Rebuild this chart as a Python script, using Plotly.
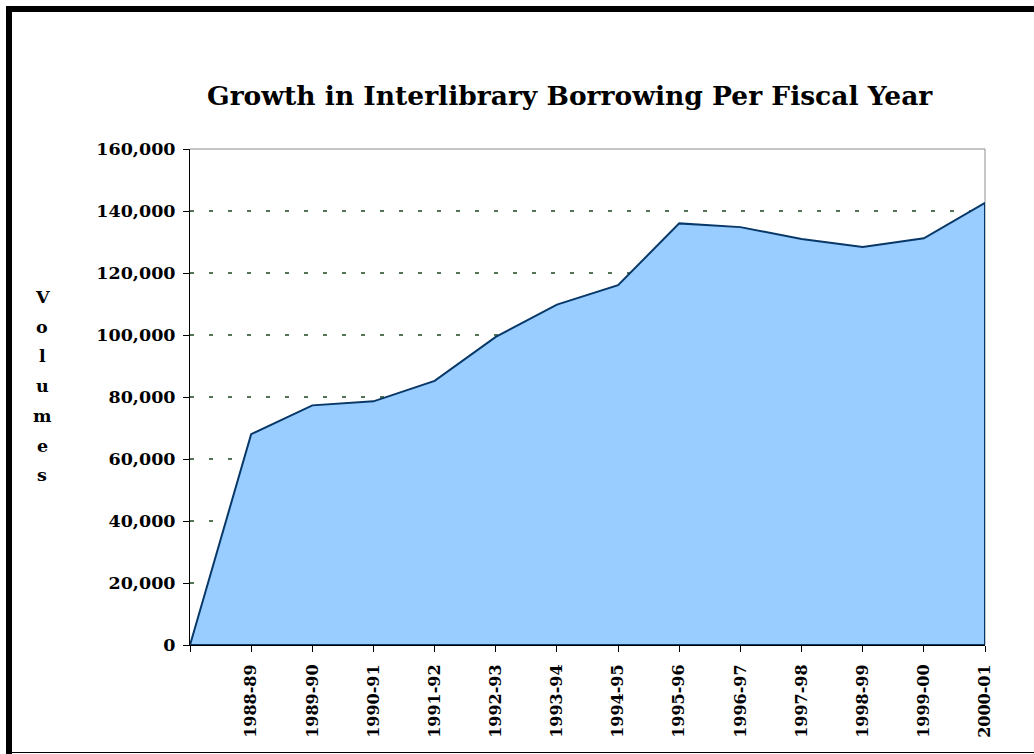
import plotly.graph_objects as go

# Fiscal years on the category axis; the first slot is an unlabeled baseline year
fiscal_years = ["", "1988-89", "1989-90", "1990-91", "1991-92", "1992-93", "1993-94",
                "1994-95", "1995-96", "1996-97", "1997-98", "1998-99", "1999-00", "2000-01"]
volumes = [0, 68000, 77300, 78600, 85200, 99400, 109800, 116100,
           136000, 134800, 131000, 128400, 131200, 142600]
y_ticks = [0, 20000, 40000, 60000, 80000, 100000, 120000, 140000, 160000]

W, H = 1034, 754
plot_left, plot_right, plot_top, plot_bottom = 190, 985, 149, 645

FONT = "DejaVu Serif"
x_idx = list(range(len(fiscal_years)))

fig = go.Figure()

# Closed polygon so the outline runs along the baseline and the right edge too
poly_x = x_idx + [x_idx[-1], x_idx[0]]
poly_y = volumes + [0, 0]
fig.add_trace(go.Scatter(
    x=poly_x, y=poly_y, mode="lines", fill="toself",
    fillcolor="#99CCFF", line=dict(color="#083868", width=2),
    hoverinfo="skip", showlegend=False,
))

fig.update_layout(
    width=W, height=H,
    margin=dict(l=0, r=0, t=0, b=0),
    paper_bgcolor="white", plot_bgcolor="white",
    showlegend=False,
    xaxis=dict(
        domain=[plot_left / W, plot_right / W],
        range=[0, len(fiscal_years) - 1],
        tickmode="array", tickvals=x_idx, ticktext=fiscal_years,
        tickangle=-90,
        ticks="outside", ticklen=6, tickcolor="black", tickwidth=1,
        ticklabelstandoff=6,
        showline=True, linecolor="black", linewidth=1,
        showgrid=False, zeroline=False, automargin=False,
        tickfont=dict(family=FONT, size=16, color="black", weight="bold"),
    ),
    yaxis=dict(
        domain=[1 - plot_bottom / H, 1 - plot_top / H],
        range=[0, 160000],
        tickmode="array", tickvals=y_ticks,
        ticktext=[f"{v:,}" for v in y_ticks],
        ticks="outside", ticklen=6, tickcolor="black", tickwidth=1,
        ticklabelstandoff=4,
        showline=True, linecolor="black", linewidth=1,
        showgrid=True, gridcolor="#557355", gridwidth=1.5, griddash="4px,15px",
        zeroline=False, automargin=False,
        tickfont=dict(family=FONT, size=17.5, color="black", weight="bold"),
    ),
)

# Gray frame on the top and right of the plot area (beneath the dashed grid)
fig.add_shape(type="line", xref="x domain", yref="y domain", x0=0, x1=1, y0=1, y1=1,
              line=dict(color="#8C8C8C", width=1), layer="below")
fig.add_shape(type="line", xref="x domain", yref="y domain", x0=1, x1=1, y0=0, y1=1,
              line=dict(color="#8C8C8C", width=1), layer="below")

# Page border
def px_rect(x0, y0, x1, y1):
    fig.add_shape(type="rect", xref="paper", yref="paper",
                  x0=x0 / W, x1=x1 / W, y0=1 - y1 / H, y1=1 - y0 / H,
                  fillcolor="black", line=dict(width=0), layer="above")

px_rect(6, 6, 12, H)
px_rect(6, 6, W, 12)
px_rect(12, 752, W, 753)

# Title
fig.add_annotation(
    text="Growth in Interlibrary Borrowing Per Fiscal Year",
    xref="paper", yref="paper", x=570 / W, y=1 - 95 / H,
    showarrow=False, xanchor="center", yanchor="middle",
    font=dict(family=FONT, size=26.5, color="black", weight="bold"),
)

# Vertical axis title, one letter per line
axis_title = "Volumes"
first_y, step_y = 297, 29.7
for i, ch in enumerate(axis_title):
    fig.add_annotation(
        text=ch, xref="paper", yref="paper",
        x=42 / W, y=1 - (first_y + i * step_y) / H,
        showarrow=False, xanchor="center", yanchor="middle",
        font=dict(family=FONT, size=17.5, color="black", weight="bold"),
    )

fig.write_html("out.html")
